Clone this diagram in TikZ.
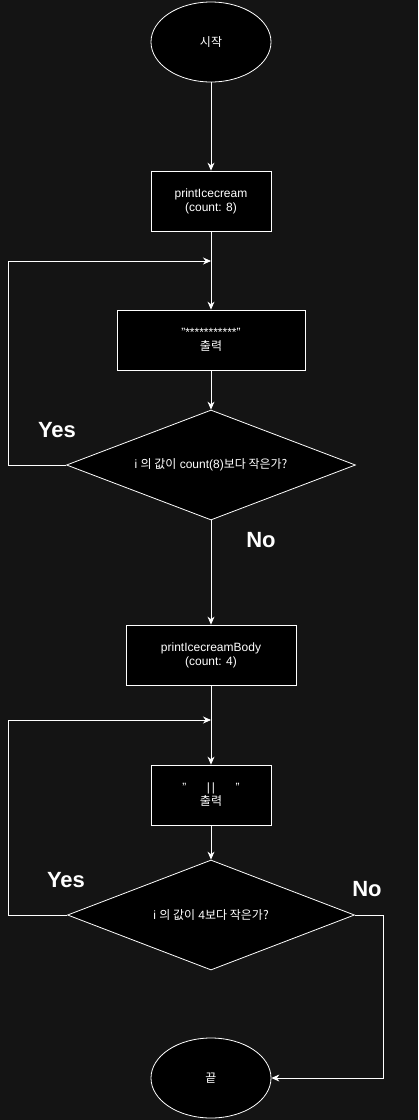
\documentclass[tikz,border=0pt]{standalone}
\usepackage{fontspec}
\setmainfont{Liberation Sans}
\newfontfamily\kr{Noto Sans CJK KR}
\usetikzlibrary{shapes.geometric,arrows.meta}
\definecolor{bgc}{HTML}{141414}
\begin{document}
\begin{tikzpicture}[x=1pt,y=-1pt,
  every node/.style={font=\fontsize{12}{14}\selectfont, text=white},
  proc/.style={draw=white, fill=black, line width=0.8pt, align=center, inner sep=0pt},
  term/.style={draw=white, fill=black, ellipse, line width=0.8pt, minimum width=120pt, minimum height=80pt, inner sep=0pt},
  decide/.style={draw=white, fill=black, diamond, aspect=2.6, line width=0.8pt, inner sep=0pt},
  lbl/.style={font=\fontsize{22}{26}\selectfont\bfseries, text=white},
  conn/.style={draw=white, line width=0.8pt},
  arr/.style={conn, -{Stealth[length=8pt,width=7pt]}}]
\fill[bgc] (0,0) rectangle (418,1120);
\useasboundingbox (0,0) rectangle (418,1120);

\node[term] (start) at (211,42) {\kr 시작};
\node[proc, minimum width=120pt, minimum height=60pt] (b1) at (211,201) {printIcecream\\(count: 8)};
\node[proc, minimum width=188pt, minimum height=60pt] (b2) at (211,340) {"***********"\\{\kr 출력}};
\node[decide, minimum width=289pt, minimum height=110pt] (d1) at (211,465) {i {\kr 의 값이} count(8){\kr 보다 작은가?}};
\node[proc, minimum width=170pt, minimum height=60pt] (b3) at (211,655) {printIcecreamBody\\(count: 4)};
\node[proc, minimum width=120pt, minimum height=60pt] (b4) at (211,795) {"\hspace{1.7em}|\,|\hspace{1.7em}"\\{\kr 출력}};
\node[decide, minimum width=287pt, minimum height=110pt] (d2) at (211,915) {i {\kr 의 값이} 4{\kr 보다 작은가?}};
\node[term] (end) at (211,1078) {\kr 끝};

\coordinate (m1) at (211,261);
\coordinate (m2) at (211,720);
\coordinate (l1) at (8,465);
\coordinate (l1t) at (8,261);
\coordinate (l2) at (8,915);
\coordinate (l2t) at (8,720);
\coordinate (r2) at (383,915);
\coordinate (r2b) at (383,1078);

\draw[arr] (start) -- (b1);
\draw[arr] (b1) -- (b2);
\draw[arr] (b2) -- (d1);
\draw[arr] (d1) -- (b3);
\draw[arr] (b3) -- (b4);
\draw[arr] (b4) -- (d2);
\draw[arr] (d1.west) -- (l1) -- (l1t) -- (m1);
\draw[arr] (d2.west) -- (l2) -- (l2t) -- (m2);
\draw[arr] (d2.east) -- (r2) -- (r2b) -- (end.east);

\node[lbl] (y1) at (57,430) {Yes};
\node[lbl] (n1) at (261,540) {No};
\node[lbl] (y2) at (66,880) {Yes};
\node[lbl] (n2) at (367,889) {No};
\end{tikzpicture}
\end{document}
